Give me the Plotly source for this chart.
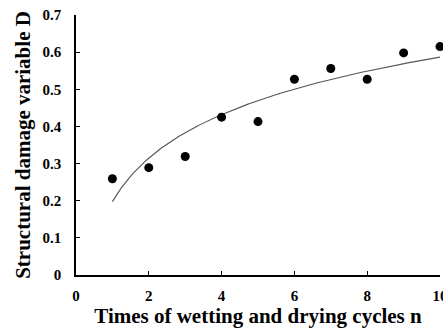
import numpy as np
import plotly.graph_objects as go

cycles = [1, 2, 3, 4, 5, 6, 7, 8, 9, 10]
damage = [0.259, 0.289, 0.319, 0.425, 0.413, 0.527, 0.556, 0.527, 0.598, 0.615]

# logarithmic trendline fitted to the data (D = a + b ln n)
b, a = np.polyfit(np.log(cycles), damage, 1)
fit_x = np.linspace(min(cycles), max(cycles), 200)
fit_y = a + b * np.log(fit_x)

font_family = "Liberation Serif, Times New Roman, serif"

fig = go.Figure()
fig.add_trace(go.Scatter(x=fit_x, y=fit_y, mode="lines",
                         line=dict(color="#555555", width=1.1),
                         hoverinfo="skip", showlegend=False))
fig.add_trace(go.Scatter(x=cycles, y=damage, mode="markers",
                         marker=dict(color="black", size=9),
                         cliponaxis=False, showlegend=False))

fig.update_layout(
    width=443, height=330,
    margin=dict(l=76, r=3, t=15, b=55, autoexpand=False),
    plot_bgcolor="white", paper_bgcolor="white",
    font=dict(family=font_family, color="black"),
)
fig.update_xaxes(
    range=[0, 10], tickvals=[0, 2, 4, 6, 8, 10],
    automargin=False,
    showgrid=False, zeroline=False, showline=True, linecolor="black", linewidth=1.5,
    ticks="inside", ticklen=4, tickwidth=1.2, tickcolor="black",
    ticklabeloverflow="allow", ticklabelstandoff=6,
    tickfont=dict(size=15, family=font_family, weight="bold"),
    title=dict(text="<b>Times of wetting and drying cycles n</b>",
               font=dict(size=21, family=font_family, weight="bold"), standoff=2),
)
fig.update_yaxes(
    range=[0, 0.7], tickvals=[0, 0.1, 0.2, 0.3, 0.4, 0.5, 0.6, 0.7],
    ticktext=["0", "0.1", "0.2", "0.3", "0.4", "0.5", "0.6", "0.7"],
    automargin=False,
    showgrid=False, zeroline=False, showline=True, linecolor="black", linewidth=1.5,
    ticks="inside", ticklen=4, tickwidth=1.2, tickcolor="black",
    ticklabelstandoff=10,
    tickfont=dict(size=15, family=font_family, weight="bold"),
    title=dict(text="<b>Structural damage variable D</b>",
               font=dict(size=21, family=font_family, weight="bold"), standoff=6),
)

fig.write_html("out.html")
